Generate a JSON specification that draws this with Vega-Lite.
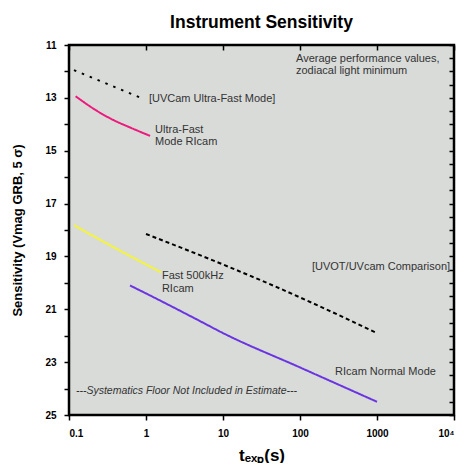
{
  "$schema": "https://vega.github.io/schema/vega-lite/v6.json",
  "width": 385,
  "height": 370,
  "padding": {"left": 11, "top": 13, "right": 8, "bottom": 0},
  "background": "white",
  "title": {"text": "Instrument Sensitivity", "font": "Liberation Sans", "fontSize": 17.5, "fontWeight": "bold", "color": "black", "anchor": "middle", "offset": 9},
  "config": {
    "view": {"fill": null, "stroke": null},
    "axis": {"labelFont": "Liberation Sans", "labelFontWeight": "bold", "labelFontSize": 10, "labelColor": "black", "domain": false, "grid": false, "titleFont": "Liberation Sans", "titleFontWeight": "bold", "titleColor": "black"}
  },
  "datasets": {
    "frame": [{"t0": 0.1, "t1": 10000, "m0": 11, "m1": 25}],
    "curves": [
      {"series": "UVCam Ultra-Fast", "t": 0.116, "mag": 11.95},
      {"series": "UVCam Ultra-Fast", "t": 0.94, "mag": 13.05},
      {"series": "Ultra-Fast RIcam", "t": 0.122, "mag": 12.94},
      {"series": "Ultra-Fast RIcam", "t": 0.233, "mag": 13.5},
      {"series": "Ultra-Fast RIcam", "t": 0.384, "mag": 13.85},
      {"series": "Ultra-Fast RIcam", "t": 0.632, "mag": 14.13},
      {"series": "Ultra-Fast RIcam", "t": 1.13, "mag": 14.44},
      {"series": "Fast 500kHz RIcam", "t": 0.116, "mag": 17.82},
      {"series": "Fast 500kHz RIcam", "t": 0.42, "mag": 18.72},
      {"series": "Fast 500kHz RIcam", "t": 1.57, "mag": 19.6},
      {"series": "UVOT/UVcam", "t": 1.0, "mag": 18.15},
      {"series": "UVOT/UVcam", "t": 12, "mag": 19.4},
      {"series": "UVOT/UVcam", "t": 48, "mag": 20.14},
      {"series": "UVOT/UVcam", "t": 238, "mag": 21.05},
      {"series": "UVOT/UVcam", "t": 1000, "mag": 21.9},
      {"series": "RIcam Normal", "t": 0.62, "mag": 20.1},
      {"series": "RIcam Normal", "t": 1, "mag": 20.4},
      {"series": "RIcam Normal", "t": 4.9, "mag": 21.43},
      {"series": "RIcam Normal", "t": 10, "mag": 21.9},
      {"series": "RIcam Normal", "t": 100, "mag": 23.2},
      {"series": "RIcam Normal", "t": 1000, "mag": 24.5}
    ],
    "notes": [
      {"t": 88.7, "mag": 11.53, "text": "Average performance values,"},
      {"t": 88.7, "mag": 11.98, "text": "zodiacal light minimum"},
      {"t": 1.09, "mag": 13.05, "text": "[UVCam Ultra-Fast Mode]"},
      {"t": 1.31, "mag": 14.2, "text": "Ultra-Fast"},
      {"t": 1.31, "mag": 14.67, "text": "Mode RIcam"},
      {"t": 1.61, "mag": 19.75, "text": "Fast 500kHz"},
      {"t": 1.61, "mag": 20.24, "text": "RIcam"},
      {"t": 143, "mag": 19.4, "text": "[UVOT/UVcam Comparison]"},
      {"t": 285, "mag": 23.39, "text": "RIcam Normal Mode"}
    ],
    "floor": [
      {"t": 0.123, "mag": 24.1, "text": "---Systematics Floor Not Included in Estimate---"}
    ]
  },
  "resolve": {"axis": {"x": "independent", "y": "independent"}},
  "layer": [
    {
      "data": {"name": "frame"},
      "mark": {"type": "rect", "fill": "#d9dbd9", "stroke": "black", "strokeWidth": 2.5},
      "encoding": {
        "x": {"field": "t0", "type": "quantitative", "scale": {"type": "log", "domain": [0.1, 10000]},
              "axis": {"orient": "bottom", "zindex": 1, "ticks": true, "tickColor": "black", "tickWidth": 1.5, "tickSize": 5, "offset": 0, "values": [0.1, 1, 10, 100, 1000, 10000], "format": "~g", "labelExpr": "datum.value >= 10000 ? '10⁴' : datum.label", "labelPadding": 8, "title": "tₑₓₚ(s)", "titleFontSize": 17, "titlePadding": 9}},
        "x2": {"field": "t1"},
        "y": {"field": "m0", "type": "quantitative", "scale": {"domain": [11, 25], "reverse": true, "zero": false, "nice": false},
              "axis": {"orient": "left", "zindex": 1, "ticks": true, "tickColor": "black", "tickWidth": 1.5, "tickSize": 5, "offset": 0, "format": "d", "values": [11, 11.5, 12, 12.5, 13, 13.5, 14, 14.5, 15, 15.5, 16, 16.5, 17, 17.5, 18, 18.5, 19, 19.5, 20, 20.5, 21, 21.5, 22, 22.5, 23, 23.5, 24, 24.5, 25], "labelExpr": "datum.value % 2 == 1 ? datum.label : ''", "labelPadding": 8, "title": "Sensitivity (Vmag GRB, 5 σ)", "titleFontSize": 13, "titlePadding": 20}},
        "y2": {"field": "m1"}
      }
    },
    {
      "data": {"name": "curves"},
      "mark": {"type": "line", "strokeWidth": 2, "strokeCap": "butt", "interpolate": "monotone"},
      "encoding": {
        "x": {"field": "t", "type": "quantitative", "axis": {"orient": "top", "zindex": 1, "ticks": true, "tickColor": "black", "tickWidth": 1.5, "tickSize": -5, "values": [0.1, 1, 10, 100, 1000, 10000], "labels": false, "title": null}},
        "y": {"field": "mag", "type": "quantitative", "axis": {"orient": "right", "zindex": 1, "ticks": true, "tickColor": "black", "tickWidth": 1.5, "tickSize": -5, "values": [11, 11.5, 12, 12.5, 13, 13.5, 14, 14.5, 15, 15.5, 16, 16.5, 17, 17.5, 18, 18.5, 19, 19.5, 20, 20.5, 21, 21.5, 22, 22.5, 23, 23.5, 24, 24.5, 25], "labels": false, "title": null}},
        "color": {"field": "series", "type": "nominal", "legend": null,
                  "scale": {"domain": ["UVCam Ultra-Fast", "Ultra-Fast RIcam", "Fast 500kHz RIcam", "UVOT/UVcam", "RIcam Normal"], "range": ["#000000", "#ec1a7c", "#f4f43c", "#000000", "#6a35e0"]}},
        "strokeDash": {"field": "series", "type": "nominal", "legend": null,
                  "scale": {"domain": ["UVCam Ultra-Fast", "Ultra-Fast RIcam", "Fast 500kHz RIcam", "UVOT/UVcam", "RIcam Normal"], "range": [[2.5, 6], [1, 0], [1, 0], [4, 3], [1, 0]]}},
        "detail": {"field": "series"}
      }
    },
    {
      "data": {"name": "notes"},
      "mark": {"type": "text", "align": "left", "baseline": "middle", "font": "Liberation Sans", "fontSize": 11, "color": "#333333"},
      "encoding": {
        "x": {"field": "t", "type": "quantitative", "axis": null},
        "y": {"field": "mag", "type": "quantitative", "axis": null},
        "text": {"field": "text"}
      }
    },
    {
      "data": {"name": "floor"},
      "mark": {"type": "text", "align": "left", "baseline": "middle", "font": "Liberation Sans", "fontSize": 10.5, "fontStyle": "italic", "color": "#333333"},
      "encoding": {
        "x": {"field": "t", "type": "quantitative", "axis": null},
        "y": {"field": "mag", "type": "quantitative", "axis": null},
        "text": {"field": "text"}
      }
    }
  ]
}
